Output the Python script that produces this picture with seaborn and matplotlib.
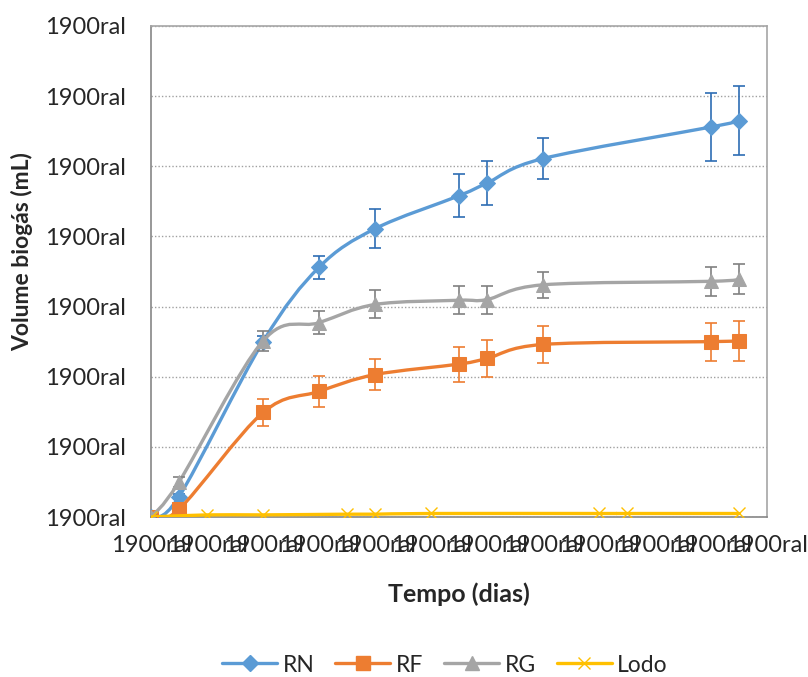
import numpy as np
import matplotlib
matplotlib.use("Agg")
import matplotlib.pyplot as plt
import seaborn as sns
from matplotlib.path import Path
from matplotlib.patches import PathPatch
from matplotlib.lines import Line2D

# data
dias = [0, 5, 20, 30, 40, 55, 60, 70, 100, 105]
rn = [0, 29, 250, 356, 411, 458, 476, 511, 556, 565]
rn_err = [0, 4, 8, 16, 28, 31, 31, 29, 49, 49]
rf = [0, 11, 149, 179, 203, 218, 226, 246, 250, 251]
rf_err = [0, 3, 19, 22, 22, 25, 26, 27, 27, 28]
rg = [0, 50, 251, 277, 303, 309, 310, 331, 336, 339]
rg_err = [0, 7, 14, 16, 20, 20, 20, 19, 21, 21]

dias_lodo = [0, 10, 20, 35, 40, 50, 80, 85, 105]
lodo = [0, 3, 3, 4, 4, 5, 5, 5, 5]

x_ticks = list(range(0, 111, 10))
y_ticks = list(range(0, 701, 100))
x_labels = ["1900ral"] * len(x_ticks)
y_labels = ["1900ral"] * len(y_ticks)

sns.set_style("white")
plt.rcParams["font.family"] = ["Lato", "DejaVu Sans"]

fig = plt.figure(figsize=(8.08, 6.77), dpi=100)
ax = fig.add_axes([151 / 808, 1 - 517 / 677, 616 / 808, 491 / 677])


def smooth(ax, xs, ys, color, z):
    # excel-like smoothed line (cubic bezier through the points)
    p = np.column_stack([xs, ys]).astype(float)
    pts = np.vstack([p[0], p, p[-1]])
    verts = [tuple(p[0])]
    codes = [Path.MOVETO]
    for i in range(1, len(pts) - 2):
        c1 = pts[i] + (pts[i + 1] - pts[i - 1]) / 6
        c2 = pts[i + 1] - (pts[i + 2] - pts[i]) / 6
        verts += [tuple(c1), tuple(c2), tuple(pts[i + 1])]
        codes += [Path.CURVE4] * 3
    ax.add_patch(PathPatch(Path(verts, codes), fill=False, edgecolor=color,
                           lw=2.4, zorder=z, capstyle="round"))


series = [
    ("RN", dias, rn, rn_err, "#5B9BD5", "#2E6DB4", "D", 8),
    ("RF", dias, rf, rf_err, "#ED7D31", "#ED7D31", "s", 10),
    ("RG", dias, rg, rg_err, "#A5A5A5", "#808080", "^", 10),
]

handles = []
for k, (name, xs, ys, err, col, ecol, mk, ms) in enumerate(series):
    z = 3 + k
    smooth(ax, xs, ys, col, z)
    ax.errorbar(xs, ys, yerr=err, fmt="none", ecolor=ecol, elinewidth=1.2,
                capsize=4, capthick=1.2, zorder=z)
    sns.lineplot(x=xs, y=ys, ax=ax, marker=mk, markersize=ms, color=col,
                 linestyle="none", markeredgecolor=col, zorder=z + 0.5)
    handles.append(Line2D([], [], color=col, lw=2.4, marker=mk,
                          markersize=ms, markeredgecolor=col))

smooth(ax, dias_lodo, lodo, "#FFC000", 7)
sns.lineplot(x=dias_lodo, y=lodo, ax=ax, marker="x", markersize=9,
             color="#FFC000", linestyle="none", markeredgewidth=1.0,
             markeredgecolor="#FFC000", zorder=7.5)
handles.append(Line2D([], [], color="#FFC000", lw=2.4, marker="x",
                      markersize=9, markeredgewidth=1.0))

ax.set_xlim(0, 110)
ax.set_ylim(0, 700)
ax.set_xticks(x_ticks)
ax.set_xticklabels(x_labels, fontsize=17)
ax.set_yticks(y_ticks)
ax.set_yticklabels(y_labels, fontsize=17)
ax.tick_params(axis="y", length=0, pad=18)
ax.tick_params(axis="x", length=6, width=1.2, color="#868686", direction="out", pad=7)
ax.yaxis.grid(True, linestyle=(0, (1, 1.5)), color="#A0A0A0", lw=1.0)
ax.xaxis.grid(False)
for side in ["top", "right"]:
    ax.spines[side].set_color("#A6A6A6")
    ax.spines[side].set_linewidth(1.2)
for side in ["left", "bottom"]:
    ax.spines[side].set_color("#868686")
    ax.spines[side].set_linewidth(1.2)

ax.set_xlabel("Tempo (dias)", fontsize=18, fontweight="bold", labelpad=19)
ax.set_ylabel("Volume biogás (mL)", fontsize=16.5, fontweight="bold")
ax.yaxis.set_label_coords(-0.192, 0.54)

fig.legend(handles, ["RN", "RF", "RG", "Lodo"], loc="center",
           bbox_to_anchor=(445 / 808, 1 - 665 / 677), ncol=4, frameon=False,
           fontsize=16.5, handlelength=2.4, numpoints=1, columnspacing=0.9,
           handletextpad=0.25)

fig.savefig("out.png", dpi=100)
